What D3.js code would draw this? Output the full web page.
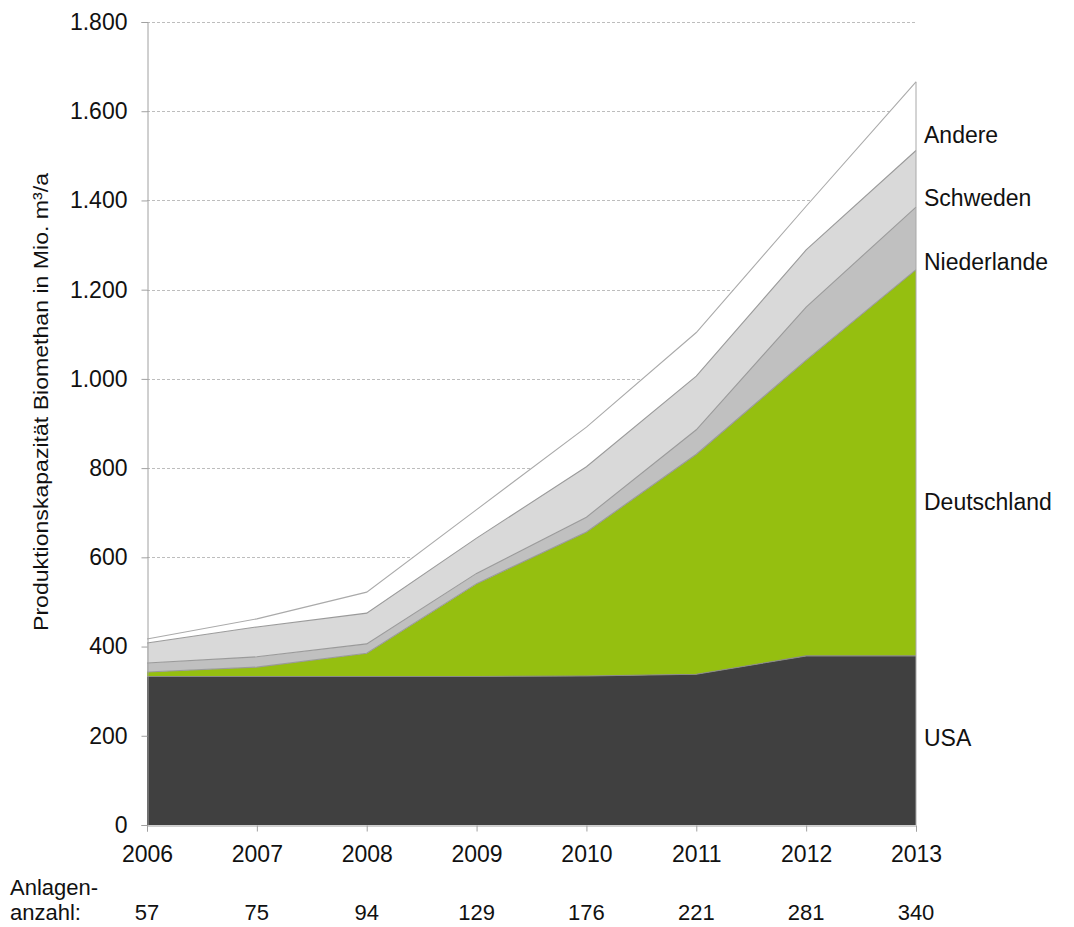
<!DOCTYPE html>
<html>
<head>
<meta charset="utf-8">
<script src="https://cdn.jsdelivr.net/npm/d3@7"></script>
<style>
body{margin:0;background:#fff;}
svg{display:block;}
text{font-family:"Liberation Sans",Arial,sans-serif;}
</style>
</head>
<body>
<svg id="chart" width="1074" height="927"></svg>
<script>
const years = [2006, 2007, 2008, 2009, 2010, 2011, 2012, 2013];
const plantCounts = [57, 75, 94, 129, 176, 221, 281, 340];
const seriesNames = ["USA", "Deutschland", "Niederlande", "Schweden", "Andere"];
const usa         = [333, 333, 333, 333, 334, 338, 379, 379];
const deutschland = [10, 21, 52, 208, 323, 493, 663, 866];
const niederlande = [20, 23, 21, 23, 33, 55, 119, 140];
const schweden    = [45, 67, 69, 79, 113, 120, 128, 127];
const andere      = [9, 18, 47, 64, 89, 98, 98, 154];
const yTicks = [0, 200, 400, 600, 800, 1000, 1200, 1400, 1600, 1800];
const labelAnchors = [195, 724, 1262, 1405, 1547];
const colors = ["#404040", "#95bf10", "#c0c0c0", "#d9d9d9", "#ffffff"];

const svg = d3.select("#chart");
const x = d3.scaleLinear().domain([2006, 2013]).range([147, 916]);
const y = d3.scaleLinear().domain([0, 1800]).range([825, 22]);

const table = years.map((yr, i) => ({
  year: yr, USA: usa[i], Deutschland: deutschland[i], Niederlande: niederlande[i],
  Schweden: schweden[i], Andere: andere[i]
}));
const stacked = d3.stack().keys(seriesNames)(table);

// gridlines
const fmt = v => d3.format(",")(v).replace(/,/g, ".");
svg.append("g").selectAll("line").data(yTicks.filter(t => t > 0)).join("line")
  .attr("x1", x(2006)).attr("x2", x(2013))
  .attr("y1", d => Math.round(y(d)) + 0.5).attr("y2", d => Math.round(y(d)) + 0.5)
  .attr("stroke", "#bdbdbd").attr("stroke-width", 1).attr("stroke-dasharray", "3,2");

// areas
const area = d3.area().x(d => x(d.data.year)).y0(d => y(d[0])).y1(d => y(d[1]));
const topLine = d3.line().x(d => x(d.data.year)).y(d => y(d[1]));
svg.append("g").selectAll("path").data(stacked).join("path")
  .attr("d", area).attr("fill", (d, i) => colors[i]);
svg.append("g").selectAll("path").data(stacked).join("path")
  .attr("d", topLine).attr("fill", "none")
  .attr("stroke", (d, i) => i === 0 ? "#8a8a8a" : (i === 4 ? "#aaaaaa" : "#9a9a9a")).attr("stroke-width", 1.1);
// right edge line
svg.append("line").attr("x1", x(2013)).attr("x2", x(2013))
  .attr("y1", y(0)).attr("y2", y(d3.sum(seriesNames, k => table[7][k])))
  .attr("stroke", "#a8a8a8").attr("stroke-width", 1);

// y axis
const yAxis = d3.axisLeft(y).tickValues(yTicks).tickFormat(fmt).tickSize(6).tickPadding(14);
const gy = svg.append("g").attr("transform", "translate(147.5,0)").call(yAxis);
gy.select(".domain").attr("stroke", "#a0a0a0");
gy.selectAll(".tick line").attr("stroke", "#a0a0a0");
gy.selectAll(".tick text").attr("font-family", "Liberation Sans, Arial, sans-serif")
  .attr("font-size", 23).attr("fill", "#111");

// x axis
const xAxis = d3.axisBottom(x).tickValues(years).tickFormat(d3.format("d")).tickSize(6).tickPadding(14);
const gx = svg.append("g").attr("transform", "translate(0,825.5)").call(xAxis);
gx.select(".domain").attr("stroke", "#a0a0a0");
gx.selectAll(".tick line").attr("stroke", "#a0a0a0");
gx.selectAll(".tick text").attr("font-family", "Liberation Sans, Arial, sans-serif")
  .attr("font-size", 23).attr("fill", "#111");

// y title (condensed)
svg.append("text")
  .attr("transform", "translate(48,402) rotate(-90)")
  .attr("text-anchor", "middle").attr("font-size", 20).attr("fill", "#111")
  .attr("textLength", 458).attr("lengthAdjust", "spacingAndGlyphs")
  .text("Produktionskapazität Biomethan in Mio. m³/a");

// series labels
svg.append("g").selectAll("text").data(seriesNames).join("text")
  .attr("x", 924).attr("y", (d, i) => y(labelAnchors[i]))
  .attr("dy", "0.35em").attr("font-size", 23).attr("fill", "#111")
  .text(d => d);

// plant counts
svg.append("text").attr("x", 10).attr("y", 895)
  .attr("font-size", 22).attr("fill", "#111").text("Anlagen-");
svg.append("text").attr("x", 10).attr("y", 920)
  .attr("font-size", 22).attr("fill", "#111").text("anzahl:");
svg.append("g").selectAll("text").data(plantCounts).join("text")
  .attr("x", (d, i) => x(years[i])).attr("y", 920)
  .attr("text-anchor", "middle").attr("font-size", 22).attr("fill", "#111")
  .text(d => d);
</script>
</body>
</html>
